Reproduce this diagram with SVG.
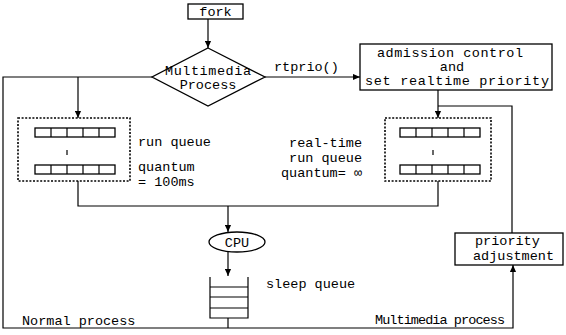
<svg xmlns="http://www.w3.org/2000/svg" width="566" height="335" viewBox="0 0 566 335">
<style>
text{font-family:"Liberation Mono","DejaVu Sans Mono",monospace;font-size:13.5px;fill:#000}
.box{fill:#fff;stroke:#000;stroke-width:1.3}
.dot{fill:none;stroke:#000;stroke-width:1.6;stroke-dasharray:2,1.6}
.ln{fill:none;stroke:#000;stroke-width:1.2}
.c{text-anchor:middle}
.r{text-anchor:end}
</style>
<defs>
<marker id="ah" viewBox="0 0 8 8" refX="8" refY="4" markerWidth="7" markerHeight="7" orient="auto" markerUnits="userSpaceOnUse">
<path d="M0,0.5 L8,4 L0,7.5 Z" fill="#000"/>
</marker>
<g id="row">
<rect x="0" y="0" width="80" height="9" class="box"/>
<path d="M16,0V9M32,0V9M48,0V9M64,0V9" class="ln"/>
</g>
</defs>
<rect width="566" height="335" fill="#fff"/>
<g id="connectors">
<path d="M208,19V48" class="ln" marker-end="url(#ah)"/>
<path d="M152,77H3V328H513V265" class="ln" marker-end="url(#ah)"/>
<path d="M78,77V118" class="ln" marker-end="url(#ah)"/>
<path d="M265,77H360" class="ln" marker-end="url(#ah)"/>
<path d="M438,90V118" class="ln" marker-end="url(#ah)"/>
<path d="M512,233V106H438" class="ln"/>
<path d="M78,181V206H438V181" class="ln"/>
<path d="M228,206V232" class="ln" marker-end="url(#ah)"/>
<path d="M228,252V276" class="ln" marker-end="url(#ah)"/>
<path d="M228,318V328" class="ln"/>
</g>
<g id="fork">
<rect x="188" y="4" width="55" height="15" class="box"/>
<text x="215.5" y="16" class="c">fork</text>
</g>
<g id="multimedia-process">
<path d="M208,48 L265,77 L208,106 L152,77 Z" class="box"/>
<text x="208" y="75" class="c" textLength="86">Multimedia</text>
<text x="208" y="89" class="c">Process</text>
</g>
<text x="274" y="71">rtprio()</text>
<g id="admission-control">
<rect x="360" y="44" width="192" height="46" class="box"/>
<text x="450" y="57" class="c" textLength="146">admission control</text>
<text x="452" y="71" class="c">and</text>
<text x="457" y="85" class="c" textLength="184">set realtime priority</text>
</g>
<g id="run-queue">
<rect x="18" y="118" width="112" height="63" class="dot"/>
<use href="#row" x="35" y="128"/>
<path d="M67,150V155" class="ln"/>
<use href="#row" x="35" y="165"/>
<text x="138" y="146">run queue</text>
<text x="138" y="171">quantum</text>
<text x="138" y="186">= 100ms</text>
</g>
<g id="realtime-run-queue">
<rect x="385" y="118" width="106" height="63" class="dot"/>
<use href="#row" x="400" y="128"/>
<path d="M433,150V155" class="ln"/>
<use href="#row" x="400" y="165"/>
<text x="362" y="147" class="r">real-time</text>
<text x="362" y="162" class="r">run queue</text>
<text x="362" y="177" class="r">quantum= ∞</text>
</g>
<g id="cpu">
<ellipse cx="237" cy="242" rx="28" ry="10" class="box"/>
<text x="237" y="246.5" class="c">CPU</text>
</g>
<g id="sleep-queue">
<path d="M210,277V318H248V277M210,287H248M210,297H248M210,308H248" class="ln"/>
<text x="266" y="288">sleep queue</text>
</g>
<g id="priority-adjustment">
<rect x="455" y="233" width="108" height="32" class="box"/>
<text x="475" y="245">priority</text>
<text x="473" y="260">adjustment</text>
</g>
<text x="22" y="325">Normal process</text>
<text x="375" y="324" textLength="130">Multimedia process</text>
</svg>
